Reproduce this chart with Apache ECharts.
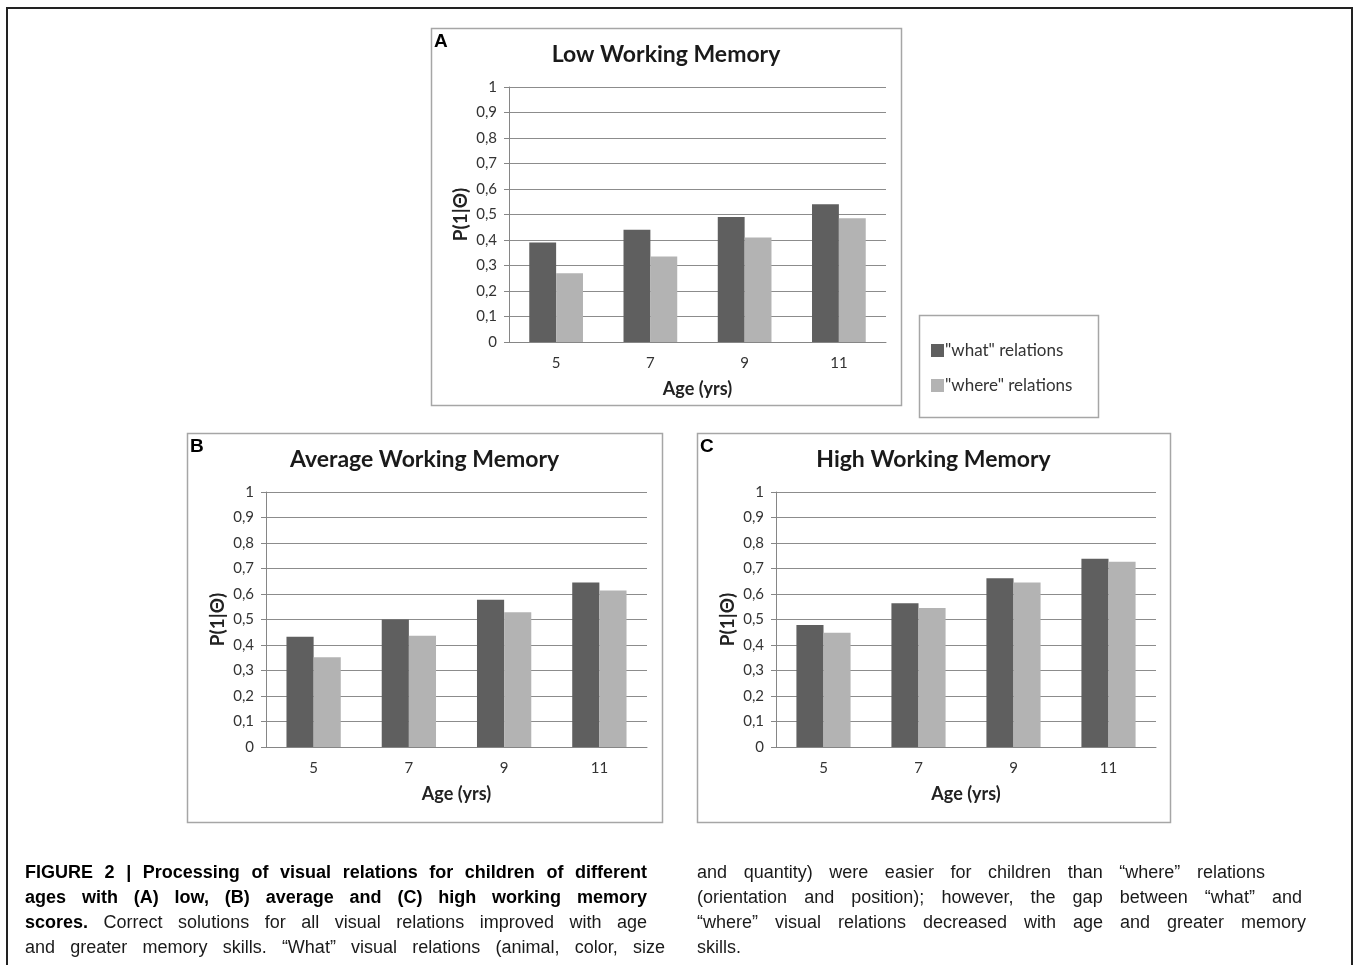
<!DOCTYPE html>
<html><head><meta charset="utf-8">
<script src="https://cdn.jsdelivr.net/npm/echarts@6/dist/echarts.min.js"></script>
<style>
html,body{margin:0;padding:0;background:#fff;}
#chart{position:absolute;left:0;top:0;width:1355px;height:965px;}
.cap{position:absolute;font-family:"Liberation Sans Narrow","Liberation Sans",Arial,sans-serif;font-size:18px;color:#1a1a1a;text-align:justify;text-align-last:justify;line-height:25px;height:25px;}
.cap.l{text-align-last:left;}
.cap b{color:#000;}
</style></head>
<body>
<div id="chart"></div>
<div class="cap" style="left:25px;top:860px;width:622px;"><b>FIGURE 2 | Processing of visual relations for children of different</b></div>
<div class="cap" style="left:25px;top:885px;width:622px;"><b>ages with (A) low, (B) average and (C) high working memory</b></div>
<div class="cap" style="left:25px;top:910px;width:622px;"><b>scores.</b> Correct solutions for all visual relations improved with age</div>
<div class="cap" style="left:25px;top:935px;width:640px;">and greater memory skills. “What” visual relations (animal, color, size</div>
<div class="cap" style="left:697px;top:860px;width:568px;">and quantity) were easier for children than “where” relations</div>
<div class="cap" style="left:697px;top:885px;width:605px;">(orientation and position); however, the gap between “what” and</div>
<div class="cap" style="left:697px;top:910px;width:609px;">“where” visual relations decreased with age and greater memory</div>
<div class="cap l" style="left:697px;top:935px;width:609px;">skills.</div>
<script>
const ages = ['5', '7', '9', '11'];
const seriesNames = ['"what" relations', '"where" relations'];
const panelTitles = ['Low Working Memory', 'Average Working Memory', 'High Working Memory'];
const panelLetters = ['A', 'B', 'C'];
const lowWhat = [0.39, 0.44, 0.49, 0.54];
const lowWhere = [0.27, 0.335, 0.41, 0.485];
const avgWhat = [0.432, 0.50, 0.577, 0.645];
const avgWhere = [0.352, 0.436, 0.528, 0.614];
const highWhat = [0.478, 0.564, 0.662, 0.738];
const highWhere = [0.448, 0.545, 0.645, 0.726];
const yAxisName = 'P(1|Θ)';
const xAxisName = 'Age (yrs)';

const panelData = [[lowWhat, lowWhere], [avgWhat, avgWhere], [highWhat, highWhere]];
const colors = ['#5f5f5f', '#b3b3b3'];
const grids = [
  {left: 509, top: 87, width: 377, height: 255},
  {left: 266, top: 492, width: 381, height: 255},
  {left: 776, top: 492, width: 380, height: 255}
];
const boxes = [
  {x: 431, y: 28, w: 470, h: 377},
  {x: 187, y: 433, w: 475, h: 389},
  {x: 697, y: 433, w: 473, h: 389}
];
const font = 'Lato, "Open Sans", sans-serif';

const chart = echarts.init(document.getElementById('chart'), null, {renderer: 'canvas'});
const xAxes = [], yAxes = [], series = [], graphic = [];

// outer frame
graphic.push({type: 'polyline', shape: {points: [[7, 980], [7, 8], [1352, 8], [1352, 980]]},
  style: {stroke: '#222', lineWidth: 2, fill: null}, z: 0});

grids.forEach((g, i) => {
  xAxes.push({
    type: 'category', gridIndex: i, data: ages,
    axisLine: {lineStyle: {color: '#868686'}},
    axisTick: {show: false},
    axisLabel: {color: '#333', fontFamily: font, fontSize: 15, margin: 14},
    name: xAxisName, nameLocation: 'middle', nameGap: 38,
    nameTextStyle: {color: '#222', fontFamily: font, fontSize: 18, fontWeight: 'bold'}
  });
  yAxes.push({
    type: 'value', gridIndex: i, min: 0, max: 1, interval: 0.1,
    axisLine: {show: true, lineStyle: {color: '#868686'}},
    axisTick: {show: true, length: 5, lineStyle: {color: '#868686'}},
    splitLine: {lineStyle: {color: '#8c8c8c', width: 1}},
    axisLabel: {color: '#333', fontFamily: font, fontSize: 15, margin: 12,
      formatter: v => (v === 0 ? '0' : v === 1 ? '1' : v.toFixed(1).replace('.', ','))},
    name: yAxisName, nameLocation: 'middle', nameGap: 39, nameRotate: 90,
    nameTextStyle: {color: '#222', fontFamily: font, fontSize: 19, fontWeight: 'bold'}
  });
  panelData[i].forEach((vals, s) => {
    series.push({
      type: 'bar', name: seriesNames[s], xAxisIndex: i, yAxisIndex: i,
      data: vals, barGap: '0%', barCategoryGap: '43%',
      itemStyle: {color: colors[s]}, emphasis: {disabled: true}
    });
  });
  const b = boxes[i];
  graphic.push({type: 'rect', shape: {x: b.x + 0.5, y: b.y + 0.5, width: b.w, height: b.h},
    style: {fill: null, stroke: '#a6a6a6', lineWidth: 1.5}, z: 1});
  graphic.push({type: 'text', x: b.x + 3, y: b.y + 14,
    style: {text: panelLetters[i], fill: '#000', font: 'bold 19px "Liberation Sans", Arial', textVerticalAlign: 'middle'}});
  graphic.push({type: 'text', x: b.x + b.w / 2, y: b.y + 27,
    style: {text: panelTitles[i], fill: '#1a1a1a', font: 'bold 23px ' + font, textAlign: 'center', textVerticalAlign: 'middle'}});
});

// legend box
graphic.push({type: 'rect', shape: {x: 919.5, y: 315.5, width: 179, height: 102},
  style: {fill: null, stroke: '#a6a6a6', lineWidth: 1.5}, z: 1});

chart.setOption({
  animation: false,
  backgroundColor: '#ffffff',
  color: colors,
  grid: grids.map(g => Object.assign({containLabel: false}, g)),
  xAxis: xAxes,
  yAxis: yAxes,
  legend: {
    left: 926, top: 337, orient: 'vertical', itemWidth: 13, itemHeight: 13, itemGap: 18,
    icon: 'rect', data: seriesNames,
    textStyle: {color: '#333', fontFamily: font, fontSize: 17, padding: [0, 0, 0, -4]},
    selectedMode: false
  },
  series: series,
  graphic: graphic
});
</script>
</body></html>
